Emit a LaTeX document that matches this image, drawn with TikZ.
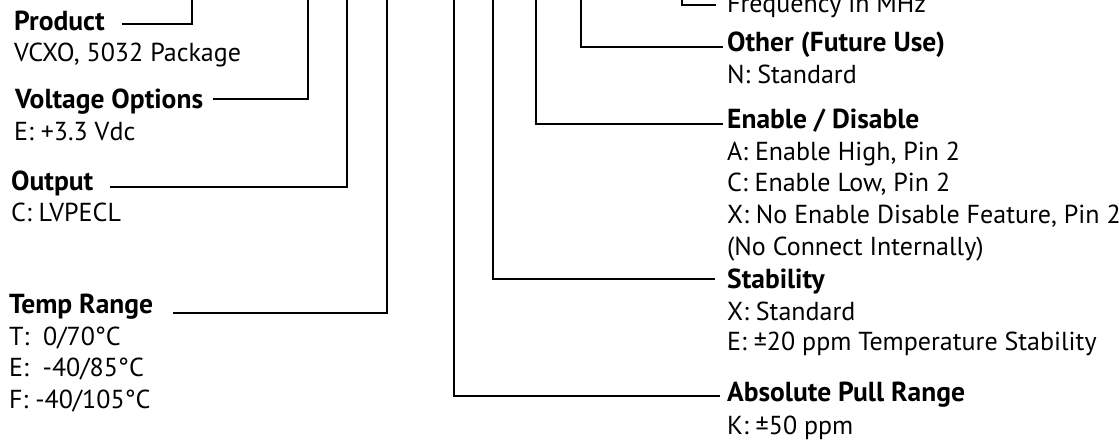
\documentclass[tikz,border=0pt]{standalone}
\usepackage{fontspec}
\setmainfont{PT Sans}
\usetikzlibrary{calc}
\begin{document}
\begin{tikzpicture}[x=1pt,y=-1pt,
  lbl/.style={anchor=base west, inner sep=0pt, font=\fontsize{26}{30}\selectfont},
  hdr/.style={anchor=base west, inner sep=0pt, font=\fontsize{27.5}{32}\selectfont\bfseries},
  conn/.style={line width=2pt, black}]
\useasboundingbox (0,0) rectangle (1119,443);
% left column
\node[hdr] (hProd) at (14,31) {Product};
\node[lbl] (vProd) at (14,62) {VCXO, 5032 Package};
\node[hdr] (hVolt) at (15,109) {Voltage Options};
\node[lbl] (vVolt) at (14,141) {E: +3.3 Vdc};
\node[hdr] (hOut) at (11,191) {Output};
\node[lbl] (vOut) at (11,222) {C: LVPECL};
\node[hdr] (hTemp) at (9,314) {Temp Range};
\node[lbl] (vTemp1) at (9,346) {T:~~0/70°C};
\node[lbl] (vTemp2) at (9,377) {E:~~-40/85°C};
\node[lbl] (vTemp3) at (9,409) {F: -40/105°C};
% right column
\node[lbl] (vFreq) at (727,13) {Frequency in MHz};
\node[hdr] (hOther) at (727,52) {Other (Future Use)};
\node[lbl] (vOther) at (727,84) {N: Standard};
\node[hdr] (hEn) at (727,129) {Enable / Disable};
\node[lbl] (vEn1) at (727,161) {A: Enable High, Pin 2};
\node[lbl] (vEn2) at (727,192) {C: Enable Low, Pin 2};
\node[lbl] (vEn3) at (727,224) {X: No Enable Disable Feature, Pin 2};
\node[lbl] (vEn4) at (727,256) {(No Connect Internally)};
\node[hdr] (hStab) at (727,289) {Stability};
\node[lbl] (vStab1) at (727,321) {X: Standard};
\node[lbl] (vStab2) at (727,351) {E: ±20 ppm Temperature Stability};
\node[hdr] (hAbs) at (727,402) {Absolute Pull Range};
\node[lbl] (vAbs) at (727,434) {K: ±50 ppm};
% top ends of the connectors
\coordinate (tProd) at (192,0);
\coordinate (tVolt) at (308,0);
\coordinate (tOut) at (347,0);
\coordinate (tTemp) at (387,0);
\coordinate (tAbs) at (454,0);
\coordinate (tStab) at (493,0);
\coordinate (tEn) at (536,0);
\coordinate (tOther) at (581,0);
\coordinate (tFreq) at (682,0);
% connectors
\draw[conn] ($(hProd.east |- 0,24)+(17,0)$) -| (tProd);
\draw[conn] ($(hVolt.east |- 0,99)+(10,0)$) -| (tVolt);
\draw[conn] ($(hOut.east |- 0,187)+(17,0)$) -| (tOut);
\draw[conn] ($(hTemp.east |- 0,313)+(20,0)$) -| (tTemp);
\draw[conn] (tAbs) |- ($(hAbs.west |- 0,396)+(-7,0)$);
\draw[conn] (tStab) |- ($(hStab.west |- 0,279)+(-12,0)$);
\draw[conn] (tEn) |- ($(hEn.west |- 0,124)+(-4,0)$);
\draw[conn] (tOther) |- ($(hOther.west |- 0,47)+(-4,0)$);
\draw[conn] (tFreq) |- ($(vFreq.west |- 0,5)+(-11,0)$);
\end{tikzpicture}
\end{document}
